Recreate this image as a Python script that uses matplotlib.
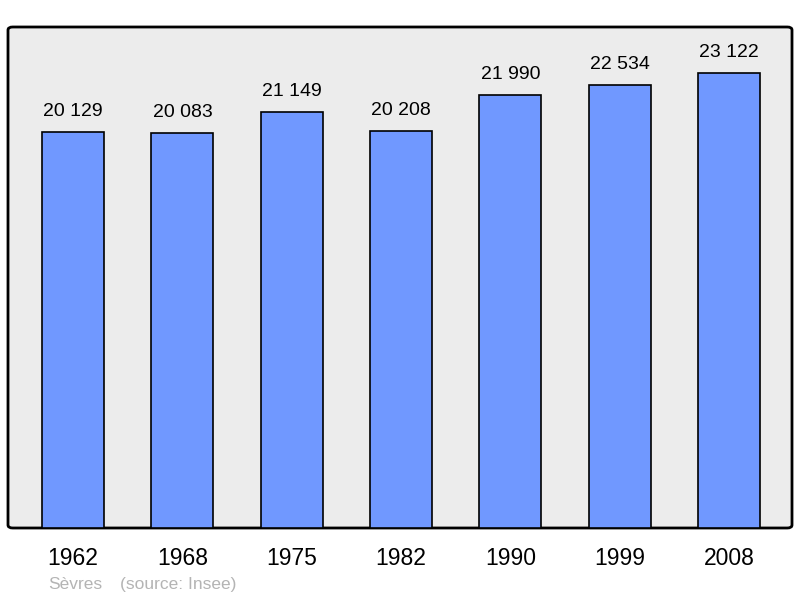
import matplotlib.pyplot as plt
from matplotlib.patches import FancyBboxPatch

plt.rcParams["font.family"] = ["Liberation Sans", "DejaVu Sans"]

years = ["1962", "1968", "1975", "1982", "1990", "1999", "2008"]
population = [20129, 20083, 21149, 20208, 21990, 22534, 23122]

fig = plt.figure(figsize=(8, 5.98), dpi=100)
ax = fig.add_axes([8 / 800, 70 / 598, 784 / 800, 501 / 598])

# fond gris arrondi
bg = FancyBboxPatch((0, 0), 1, 1, boxstyle="round,pad=0,rounding_size=0.006",
                    transform=ax.transAxes, facecolor="#ececec",
                    edgecolor="black", linewidth=2, zorder=0, clip_on=False)
ax.add_patch(bg)
ax.set_facecolor("none")
for s in ax.spines.values():
    s.set_visible(False)

x = range(len(years))
ax.bar(x, population, width=0.567, color="#7098ff", edgecolor="black",
       linewidth=1.2, zorder=2)

for xi, v in zip(x, population):
    ax.annotate(f"{v:,}".replace(",", " "), (xi, v), xytext=(0, 11.5),
                textcoords="offset points", ha="center", va="baseline",
                fontsize=14)

ax.set_xlim(-0.595, 6.576)
ax.set_ylim(0, 25470)
ax.set_xticks(list(x))
ax.set_xticklabels(years, fontsize=16.5)
ax.tick_params(axis="x", length=0, pad=14)
ax.set_yticks([])

fig.text(48 / 800, 1 - 589 / 598, "Sèvres", color="#b4b4b4", fontsize=12.5,
         va="baseline", ha="left")
fig.text(120 / 800, 1 - 589 / 598, "(source: Insee)", color="#b4b4b4",
         fontsize=12.5, va="baseline", ha="left")

fig.savefig("out.png", dpi=100)
